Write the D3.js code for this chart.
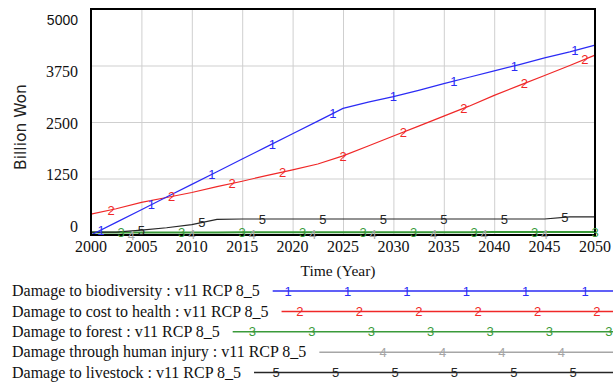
<!DOCTYPE html>
<html>
<head>
<meta charset="utf-8">
<script src="https://cdn.jsdelivr.net/npm/d3@7/dist/d3.min.js"></script>
<style>
  body { margin: 0; background: #fff; }
  .grid line { stroke: #cfcfcf; stroke-width: 1px; }
  .grid path { display: none; }
</style>
</head>
<body>
<div id="chart"></div>
<script>
//Data (Billion Won per year)
var years = [2000, 2002.5, 2005, 2007.5, 2010, 2012.5, 2015, 2017.5, 2020, 2022.5, 2025,
             2027.5, 2030, 2032.5, 2035, 2037.5, 2040, 2042.5, 2045, 2047.5, 2050]

var biodiversity = [0, 280, 560, 840, 1120, 1400, 1680, 1960, 2240, 2520, 2800,
                    2940, 3060, 3200, 3350, 3490, 3630, 3770, 3920, 4050, 4200]
var costToHealth = [460, 580, 720, 830, 940, 1070, 1190, 1320, 1440, 1570, 1750,
                    1970, 2190, 2410, 2630, 2850, 3090, 3310, 3530, 3750, 3980]
var forest = [55, 55, 56, 57, 58, 58, 59, 59, 60, 60, 61,
              61, 62, 62, 63, 63, 64, 64, 65, 65, 66]
var humanInjury = [3, 3, 3, 3, 4, 4, 4, 4, 4, 4, 5,
                   5, 5, 5, 5, 5, 5, 6, 6, 6, 6]
var livestock = [65, 65, 110, 160, 230, 345, 354, 354, 354, 354, 354,
                 354, 354, 354, 354, 354, 354, 354, 354, 400, 400]

//Years where the numbered markers sit on each line
var markersBiodiversity = [2001, 2006, 2012, 2018, 2024, 2030, 2036, 2042, 2048]
var markersHealth = [2002, 2008, 2014, 2019, 2025, 2031, 2037, 2043, 2049]
var markersForest = [2003, 2009, 2015, 2021, 2027, 2032, 2038, 2044, 2050]
var markersInjury = [2004, 2010, 2016, 2022, 2028, 2034, 2039, 2045]
var markersLivestock = [2005, 2011, 2017, 2023, 2029, 2035, 2041, 2047]

var seriesNames = ["Damage to biodiversity : v11 RCP 8_5",
                   "Damage to cost to health : v11 RCP 8_5",
                   "Damage to forest : v11 RCP 8_5",
                   "Damage through human injury : v11 RCP 8_5",
                   "Damage to livestock : v11 RCP 8_5"]
var seriesColors = ["#2b2bf5", "#f02828", "#3a9a3a", "#a6a6a6", "#262626"]

var xTicks = [2000, 2005, 2010, 2015, 2020, 2025, 2030, 2035, 2040, 2045, 2050]
var yTicks = [0, 1250, 2500, 3750, 5000]

//Put the series together
var allValues = [biodiversity, costToHealth, forest, humanInjury, livestock]
var allMarkers = [markersBiodiversity, markersHealth, markersForest, markersInjury, markersLivestock]
var series = []
for (i = 0; i < seriesNames.length; i++) {
  series.push({
    "name": seriesNames[i],
    "color": seriesColors[i],
    "label": String(i + 1),
    "points": years.map(function(y, j){ return {"year": y, "value": allValues[i][j]} }),
    "markers": allMarkers[i]
  })
}

var width = 613
var height = 386
var margin = {top: 9, left: 91, right: 18, bottom: 151}

var svg = d3.select("#chart")
  .append("svg")
  .attr("width", width)
  .attr("height", height)

var plotW = width - margin.left - margin.right
var plotH = height - margin.top - margin.bottom

var x = d3.scaleLinear().domain([2000, 2050]).range([margin.left, margin.left + plotW])
var y = d3.scaleLinear().domain([0, 5000]).range([margin.top + plotH, margin.top])
//Vensim spreads the y labels over a slightly shorter span than the grid
var yLabel = d3.scaleLinear().domain([0, 5000]).range([226, 20])

//Grid lines
svg.append("g")
  .attr("class", "grid")
  .attr("transform", "translate(0," + (margin.top + plotH) + ")")
  .call(d3.axisBottom(x).tickValues(xTicks).tickSize(-plotH).tickFormat(""))

svg.append("g")
  .attr("class", "grid")
  .attr("transform", "translate(" + margin.left + ",0)")
  .call(d3.axisLeft(y).tickValues(yTicks).tickSize(-plotW).tickFormat(""))

//Lines
var line = d3.line()
  .x(function(d){ return x(d.year) })
  .y(function(d){ return y(d.value) })

function valueAt(s, yr) {
  var px = s.points.map(function(d){ return d.year })
  var k = d3.bisectRight(px, yr) - 1
  if (k < 0) k = 0
  if (k >= px.length - 1) return s.points[px.length - 1].value
  var a = s.points[k], b = s.points[k + 1]
  return a.value + (b.value - a.value) * (yr - a.year) / (b.year - a.year)
}

//Draw from the back series to the front one
var order = [3, 2, 4, 1, 0]
order.forEach(function(i){
  var s = series[i]
  svg.append("path")
    .datum(s.points)
    .attr("fill", "none")
    .attr("stroke", s.color)
    .attr("stroke-width", i == 2 ? 2 : 1.2)
    .attr("d", line)
})

//Plot border
svg.append("rect")
  .attr("x", margin.left)
  .attr("y", margin.top)
  .attr("width", plotW)
  .attr("height", plotH)
  .attr("fill", "none")
  .attr("stroke", "#000")
  .attr("stroke-width", 2)

//Numbered markers on the lines
order.forEach(function(i){
  var s = series[i]
  svg.selectAll(".m" + i)
    .data(s.markers)
    .enter()
    .append("text")
    .attr("x", function(d){ return x(d) })
    .attr("y", function(d){ return y(valueAt(s, d)) })
    .attr("dy", "0.36em")
    .attr("text-anchor", "middle")
    .attr("font-family", "Liberation Sans, Arial, sans-serif")
    .attr("font-size", 13)
    .attr("fill", s.color)
    .text(s.label)
})

//Y axis labels
svg.selectAll(".ylab")
  .data(yTicks)
  .enter()
  .append("text")
  .attr("x", 78)
  .attr("y", function(d){ return yLabel(d) })
  .attr("dy", "0.36em")
  .attr("text-anchor", "end")
  .attr("font-family", function(d){ return d == 5000 ? "Liberation Sans, sans-serif" : "Liberation Serif, serif" })
  .attr("font-size", function(d){ return d == 5000 ? 14 : 16 })
  .attr("fill", "#111")
  .text(function(d){ return d })

//X axis labels
svg.selectAll(".xlab")
  .data(xTicks)
  .enter()
  .append("text")
  .attr("x", function(d){ return x(d) })
  .attr("y", 246)
  .attr("dy", "0.36em")
  .attr("text-anchor", "middle")
  .attr("font-family", "Liberation Serif, serif")
  .attr("font-size", 16)
  .attr("fill", "#111")
  .text(function(d){ return d })

svg.append("text")
  .attr("x", 338)
  .attr("y", 270)
  .attr("dy", "0.36em")
  .attr("text-anchor", "middle")
  .attr("font-family", "Liberation Serif, serif")
  .attr("font-size", 15.5)
  .attr("fill", "#111")
  .text("Time (Year)")

svg.append("text")
  .attr("transform", "translate(20,127) rotate(-90)")
  .attr("dy", "0.36em")
  .attr("text-anchor", "middle")
  .attr("font-family", "DejaVu Sans, sans-serif")
  .attr("font-size", 15.5)
  .attr("fill", "#222")
  .text("Billion Won")

//Legend at the bottom
var legendY = d3.scaleLinear().domain([0, 4]).range([291, 372.5])
var markStep = 59.4
var markBase = 288.1

series.forEach(function(s, i){
  var ly = legendY(i)
  var t = svg.append("text")
    .attr("x", 12)
    .attr("y", ly)
    .attr("dy", "0.33em")
    .attr("font-family", "Liberation Serif, serif")
    .attr("font-size", 16)
    .attr("fill", "#111")
    .text(s.name)
  var start = 12 + t.node().getComputedTextLength() + 13

  svg.append("line")
    .attr("x1", start)
    .attr("x2", width)
    .attr("y1", ly)
    .attr("y2", ly)
    .attr("stroke", s.color)
    .attr("stroke-width", 1.5)

  var marks = []
  for (k = -3; k < 8; k++) {
    var mx = markBase + i * markStep / 5 + k * markStep
    if (mx >= start + 8 && mx <= width) marks.push(mx)
  }
  svg.selectAll(".lm" + i)
    .data(marks)
    .enter()
    .append("text")
    .attr("x", function(d){ return d })
    .attr("y", ly)
    .attr("dy", "0.36em")
    .attr("text-anchor", "middle")
    .attr("font-family", "Liberation Sans, Arial, sans-serif")
    .attr("font-size", 13)
    .attr("fill", s.color)
    .text(s.label)
})
</script>
</body>
</html>
